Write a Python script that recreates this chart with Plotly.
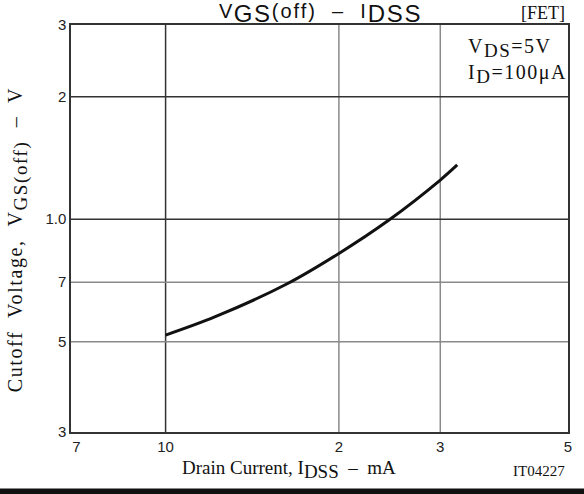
import plotly.graph_objects as go
import math

# Data
idss_mA = [10, 12.2, 16.2, 20, 24.4, 30, 32.1]
vgs_off_V = [0.519, 0.576, 0.692, 0.824, 0.994, 1.248, 1.359]

x_tickvals = [7, 10, 20, 30, 50]
x_ticktext = ["7", "10", "2", "3", "5"]
y_tickvals = [0.3, 0.5, 0.7, 1.0, 2, 3]
y_ticktext = ["3", "5", "7", "1.0", "2", "3"]

grid_x_dark = [10]
grid_x_gray = [20, 30]
grid_y_dark = [1.0, 2]
grid_y_gray = [0.5, 0.7]

x_range = [6.85, 50]
y_range = [0.3, 3]

fig = go.Figure()

for gx in grid_x_dark + grid_x_gray:
    fig.add_trace(go.Scatter(x=[gx, gx], y=y_range, mode="lines",
                             line=dict(color="#333333" if gx in grid_x_dark else "#8a8a8a", width=1.5),
                             hoverinfo="skip", showlegend=False))
for gy in grid_y_dark + grid_y_gray:
    fig.add_trace(go.Scatter(x=x_range, y=[gy, gy], mode="lines",
                             line=dict(color="#333333" if gy in grid_y_dark else "#8a8a8a", width=1.5),
                             hoverinfo="skip", showlegend=False))

fig.add_trace(go.Scatter(x=idss_mA, y=vgs_off_V, mode="lines",
                         line=dict(color="#111111", width=3, shape="spline", smoothing=1.0),
                         showlegend=False))

tickfont = dict(family="Liberation Sans, Arial", size=15, color="#222222")
fig.update_xaxes(type="log", range=[math.log10(x_range[0]), math.log10(x_range[1])],
                 tickmode="array", tickvals=x_tickvals, ticktext=x_ticktext,
                 showgrid=False, zeroline=False, showline=True, mirror=True,
                 linecolor="#333333", linewidth=1.5, ticks="", tickfont=tickfont)
fig.update_yaxes(type="log", range=[math.log10(y_range[0]), math.log10(y_range[1])],
                 tickmode="array", tickvals=y_tickvals, ticktext=y_ticktext,
                 showgrid=False, zeroline=False, showline=True, mirror=True,
                 linecolor="#333333", linewidth=1.5, ticks="", tickfont=tickfont)

serif = "Liberation Serif, Times New Roman"


def sub(t, px):
    return "<sub><span style='font-size:%dpx'>%s</span></sub>" % (px, t)


def spaced(t, px):
    return "<span style='letter-spacing:%.1fpx'>%s</span>" % (px, t)


annotations = [
    dict(text=spaced("V", 1.5) + sub(spaced("GS", 1.6), 24) + spaced("(off)  –  I", 2.0) + sub(spaced("DSS", 1.6), 24),
         x=0.503, y=1.028, xref="paper", yref="paper",
         xanchor="center", yanchor="middle", showarrow=False,
         font=dict(family="Liberation Sans, Arial", size=20, color="#111111")),
    dict(text="[FET]", x=0.998, y=1.03, xref="paper", yref="paper", xanchor="right", yanchor="middle",
         showarrow=False, font=dict(family=serif, size=18, color="#111111")),
    dict(text=spaced("V", 1.5) + sub(spaced("DS", 1.5), 19) + spaced("=5V", 1.5) + "<br>"
         + spaced("I", 1.5) + sub(spaced("D", 1.5), 19) + spaced("=100μA", 1.5),
         x=0.794, y=0.98, xref="paper", yref="paper",
         xanchor="left", yanchor="top", align="left", showarrow=False,
         font=dict(family=serif, size=20, color="#111111")),
    dict(text=spaced("Cutoff  Voltage,  V", 1.6) + sub(spaced("GS(off)", 1.6), 19) + spaced("  –  V", 1.6),
         x=-0.106, y=0.472, xref="paper", yref="paper",
         textangle=-90, xanchor="center", yanchor="middle", showarrow=False,
         font=dict(family=serif, size=20, color="#111111")),
    dict(text="Drain Current, I" + sub("DSS", 19) + "  –  mA", x=0.439, y=-0.091, xref="paper", yref="paper",
         xanchor="center", yanchor="middle", showarrow=False,
         font=dict(family=serif, size=19, color="#111111")),
    dict(text="IT04227", x=0.998, y=-0.096, xref="paper", yref="paper",
         xanchor="right", yanchor="middle", showarrow=False,
         font=dict(family=serif, size=15, color="#111111")),
]

fig.update_layout(
    width=584, height=494,
    margin=dict(l=71, r=14, t=25, b=62),
    paper_bgcolor="white", plot_bgcolor="white",
    annotations=annotations,
    shapes=[dict(type="line", xref="paper", yref="paper", x0=-0.2, x1=1.2, y0=-0.146, y1=-0.146,
                 line=dict(color="#111111", width=6))],
)

fig.write_html("out.html", config={"displayModeBar": False},
               post_script="document.body.style.margin='0';")
